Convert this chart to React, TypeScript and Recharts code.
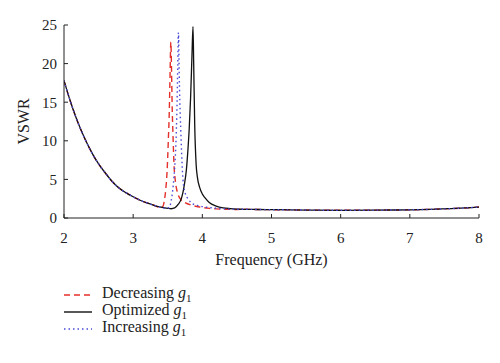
import { LineChart, Line, XAxis, YAxis, Legend } from "recharts";

// VSWR readings (GHz, VSWR)
const lowBand: [number, number][] = [
  [2.0, 17.8], [2.05, 16.3], [2.1, 14.9], [2.15, 13.6], [2.2, 12.4], [2.3, 10.3],
  [2.4, 8.5], [2.5, 7.0], [2.6, 5.8], [2.7, 4.7], [2.8, 3.85], [2.9, 3.25],
  [3.0, 2.75], [3.1, 2.3], [3.2, 1.95], [3.3, 1.65],
];

const highBand: [number, number][] = [
  [4.6, 1.13], [4.8, 1.1], [5.0, 1.08], [5.5, 1.03], [6.0, 1.0], [6.5, 1.02],
  [7.0, 1.06], [7.3, 1.12], [7.6, 1.22], [7.8, 1.3], [8.0, 1.42],
];

const decreasingPeak: [number, number][] = [
  [3.35, 1.45], [3.4, 1.32], [3.43, 1.5], [3.45, 2.2], [3.47, 3.6], [3.49, 6.0],
  [3.5, 8.0], [3.51, 10.5], [3.52, 13], [3.53, 17], [3.545, 22.8], [3.555, 19],
  [3.565, 14], [3.575, 11], [3.59, 7], [3.61, 4.8], [3.64, 3.3], [3.68, 2.5],
  [3.75, 2.0], [3.85, 1.65], [3.96, 1.42], [4.1, 1.25], [4.2, 1.18], [4.35, 1.13],
  [4.5, 1.1],
];

const optimizedPeak: [number, number][] = [
  [3.4, 1.42], [3.5, 1.25], [3.55, 1.2], [3.6, 1.3], [3.65, 1.75], [3.7, 2.6],
  [3.74, 4.3], [3.77, 6.3], [3.79, 8.6], [3.81, 11.5], [3.83, 15.5], [3.85, 21],
  [3.865, 24.8], [3.875, 20], [3.89, 12], [3.91, 7], [3.93, 5.2], [3.96, 4.0],
  [4.0, 3.1], [4.04, 2.6], [4.1, 2.0], [4.2, 1.55], [4.3, 1.32], [4.4, 1.22],
  [4.5, 1.16],
];

const increasingPeak: [number, number][] = [
  [3.4, 1.4], [3.48, 1.25], [3.52, 1.35], [3.54, 1.8], [3.56, 2.8], [3.58, 4.3],
  [3.6, 6.5], [3.615, 9], [3.625, 11.5], [3.635, 15], [3.645, 20], [3.655, 24],
  [3.665, 19], [3.675, 15], [3.69, 11], [3.7, 8.5], [3.72, 5], [3.75, 3.3],
  [3.8, 2.4], [3.86, 1.85], [3.95, 1.58], [4.06, 1.4], [4.2, 1.27], [4.3, 1.2],
  [4.5, 1.13],
];

const xTicks = [2, 3, 4, 5, 6, 7, 8];
const yTicks = [0, 5, 10, 15, 20, 25];

const toRows = (pts: [number, number][]) => pts.map(([f, v]) => ({ f, v }));

const decreasing = toRows([...lowBand, ...decreasingPeak, ...highBand]);
const optimized = toRows([...lowBand, ...optimizedPeak, ...highBand]);
const increasing = toRows([...lowBand, ...increasingPeak, ...highBand]);

const FONT = "'Liberation Serif', 'Times New Roman', serif";
const tickStyle = { fontSize: 15, fill: "#222", fontFamily: FONT };

const legendItems = [
  { label: "Decreasing", color: "#e3302b", dash: "6 4" },
  { label: "Optimized", color: "#111", dash: "" },
  { label: "Increasing", color: "#4a4ad8", dash: "1.5 3" },
];

function LegendBox() {
  return (
    <div style={{ fontFamily: FONT, fontSize: 16, color: "#222" }}>
      {legendItems.map((it) => (
        <div key={it.label} style={{ display: "flex", alignItems: "center", height: 17 }}>
          <svg width={38} height={17}>
            <line x1={0} y1={9} x2={28} y2={9} stroke={it.color} strokeWidth={1.4} strokeDasharray={it.dash} />
          </svg>
          <span>
            {it.label} <i>g</i>
            <sub style={{ fontSize: 11 }}>1</sub>
          </span>
        </div>
      ))}
    </div>
  );
}

function VswrLabel({ viewBox }: any) {
  const cy = viewBox.y + viewBox.height / 2;
  return (
    <text x={17} y={cy} transform={`rotate(-90, 17, ${cy})`} textAnchor="middle" dominantBaseline="middle"
      style={{ fontSize: 16, fill: "#222", fontFamily: FONT }}>
      VSWR
    </text>
  );
}

export default function App() {
  return (
    <LineChart width={484} height={347} margin={{ top: 17, right: 13, bottom: 77, left: 0 }}>
      <XAxis dataKey="f" type="number" domain={[2, 8]} ticks={xTicks} allowDataOverflow
        height={60} tickSize={-4} tickMargin={18} stroke="#222" tick={tickStyle}
        label={{ value: "Frequency (GHz)", position: "insideBottom", offset: 13, style: { fontSize: 16, fill: "#222", fontFamily: FONT } }} />
      <XAxis xAxisId="top" orientation="top" dataKey="f" type="number" domain={[2, 8]} ticks={xTicks}
        allowDataOverflow height={0} tickSize={-4} tick={false} stroke="#222" />
      <YAxis type="number" domain={[0, 25]} ticks={yTicks} allowDataOverflow width={56}
        tickSize={-4} tickMargin={11} stroke="#222" tick={tickStyle} label={<VswrLabel />} />
      <YAxis yAxisId="right" orientation="right" type="number" domain={[0, 25]} ticks={yTicks}
        allowDataOverflow width={0} tickSize={-4} tick={false} stroke="#222" />
      <Legend layout="vertical" align="center" verticalAlign="middle" content={<LegendBox />}
        wrapperStyle={{ left: 56, top: 278, width: 200 }} />
      <Line data={decreasing} dataKey="v" type="monotone" stroke="#e3302b" strokeWidth={1.4}
        strokeDasharray="6 4" dot={false} isAnimationActive={false} />
      <Line data={optimized} dataKey="v" type="monotone" stroke="#111" strokeWidth={1.3}
        dot={false} isAnimationActive={false} />
      <Line data={increasing} dataKey="v" type="monotone" stroke="#4a4ad8" strokeWidth={1.4}
        strokeDasharray="1.5 3" dot={false} isAnimationActive={false} />
    </LineChart>
  );
}
